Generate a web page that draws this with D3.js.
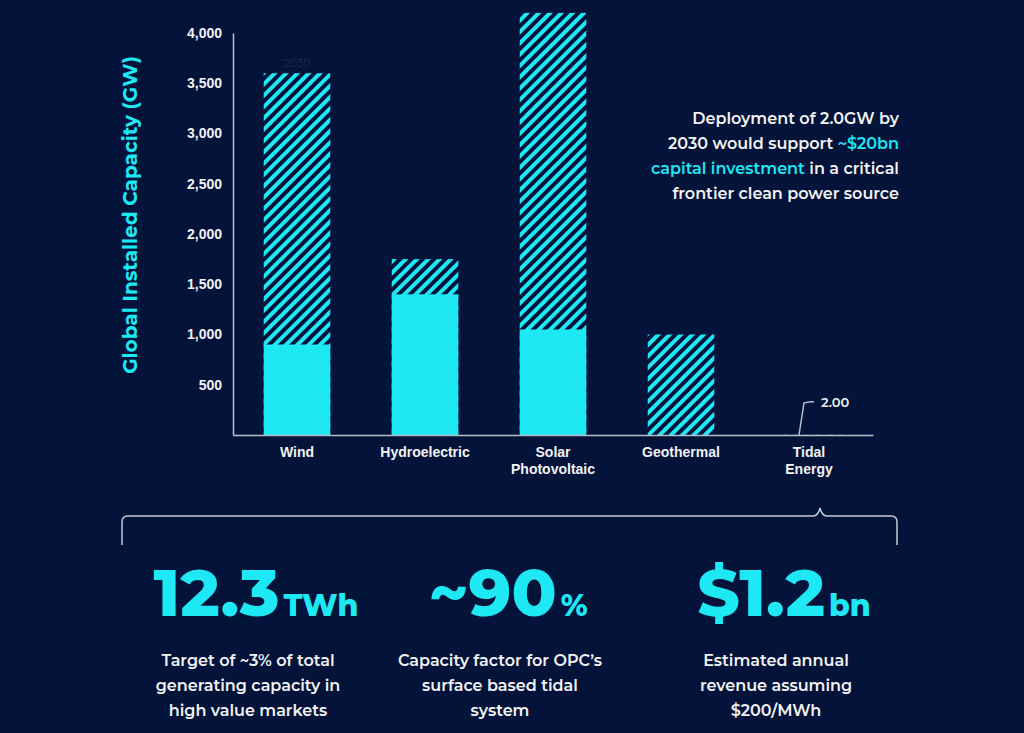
<!DOCTYPE html>
<html>
<head>
<meta charset="utf-8">
<script src="https://cdn.jsdelivr.net/npm/d3@7"></script>
<style>
  body { margin: 0; background: #03133a; }
  svg { display: block; font-family: "Montserrat", "Noto Sans", sans-serif; }
</style>
</head>
<body>
<div class="canvas"></div>
<script>
// Data
const categories = ["Wind", "Hydroelectric", "Solar Photovoltaic", "Geothermal", "Tidal Energy"];
const current = [900, 1400, 1050, 0, 0];
const target2030 = [3600, 1750, 4200, 1000, 2];
const yTicks = [500, 1000, 1500, 2000, 2500, 3000, 3500, 4000];
const stats = [
    { big: "12.3", unit: "TWh", lines: ["Target of ~3% of total", "generating capacity in", "high value markets"] },
    { big: "~90", unit: "%", lines: ["Capacity factor for OPC\u2019s", "surface based tidal", "system"] },
    { big: "$1.2", unit: "bn", lines: ["Estimated annual", "revenue assuming", "$200/MWh"] }
];

const cyan = "#1ee8f3";
const W = 1024, H = 733;
const svg = d3.select(".canvas").append("svg").attr("width", W).attr("height", H);
svg.append("rect").attr("width", W).attr("height", H).attr("fill", "#03133a");

// hatch pattern
const defs = svg.append("defs");
const pat = defs.append("pattern").attr("id", "hatch")
    .attr("patternUnits", "userSpaceOnUse").attr("width", 8).attr("height", 8)
    .attr("patternTransform", "rotate(45)");
pat.append("rect").attr("width", 8).attr("height", 8).attr("fill", "#03133a");
pat.append("rect").attr("x", 0).attr("width", 4).attr("height", 8).attr("fill", cyan);

const margin = { left: 233, top: 33, right: 1024 - 873, bottom: 733 - 435 };
const gw = W - margin.left - margin.right, gh = H - margin.top - margin.bottom;
const graph = svg.append("g").attr("transform", `translate(${margin.left},${margin.top})`);

const x = d3.scaleBand().domain(categories).range([0, gw]).paddingInner(0.48).paddingOuter(0.24);
const y = d3.scaleLinear().domain([0, 4000]).range([gh, 0]);

// bars: hatched 2030 total, solid current
graph.selectAll("rect.total").data(categories).enter().append("rect")
    .attr("class", "total")
    .attr("x", d => x(d)).attr("width", x.bandwidth())
    .attr("y", (d, i) => y(target2030[i]))
    .attr("height", (d, i) => gh - y(target2030[i]))
    .attr("fill", "url(#hatch)");
graph.selectAll("rect.cur").data(categories).enter().append("rect")
    .attr("class", "cur")
    .attr("x", d => x(d)).attr("width", x.bandwidth())
    .attr("y", (d, i) => y(current[i]))
    .attr("height", (d, i) => gh - y(current[i]))
    .attr("fill", cyan);

// faint "2030" label on wind
graph.append("text").attr("x", x("Wind") + x.bandwidth() / 2).attr("y", y(target2030[0]) - 6)
    .attr("text-anchor", "middle").attr("fill", "#1b2d55").attr("font-size", 11).text("2030");

// axes
const yAxis = d3.axisLeft(y).tickValues(yTicks).tickSize(0).tickPadding(11).tickFormat(d3.format(","));
const yg = graph.append("g").call(yAxis);
yg.select(".domain").attr("stroke", "#b8bcc8").attr("stroke-width", 1.5);
yg.selectAll("text").attr("fill", "#f2f2f2").attr("font-size", 14).attr("font-weight", 600);

const xAxis = d3.axisBottom(x).tickSize(0).tickPadding(12);
const xg = graph.append("g").attr("transform", `translate(0,${gh})`).call(xAxis);
xg.select(".domain").attr("stroke", "#b8bcc8").attr("stroke-width", 1.5);
xg.selectAll("text").attr("fill", "#f2f2f2").attr("font-size", 14).attr("font-weight", 600)
    .each(function (d) {
        const t = d3.select(this), words = d.split(" ");
        if (words.length > 1) {
            t.text(null);
            words.forEach((w, i) => t.append("tspan").attr("x", 0).attr("dy", i ? "1.25em" : "0.71em").text(w));
        }
    });

// y axis title
svg.append("text").attr("transform", "translate(137,215) rotate(-90)")
    .attr("text-anchor", "middle").attr("fill", cyan).attr("font-size", 20).attr("font-weight", 700)
    .text("Global Installed Capacity (GW)");

// tidal callout
const tx = margin.left + x("Tidal Energy") + x.bandwidth() / 2 - 10, ty = margin.top + y(target2030[4]);
svg.append("path").attr("d", `M${tx},${ty} L${tx + 5},${ty - 32} L${tx + 12},${ty - 33} L${tx + 15},${ty - 33}`)
    .attr("fill", "none").attr("stroke", "#b8bcc8").attr("stroke-width", 1.5);
svg.append("text").attr("x", tx + 22).attr("y", ty - 28).attr("fill", "#f2f2f2")
    .attr("font-size", 13).attr("font-weight", 600).text(d3.format(".2f")(target2030[4]));

// annotation
const ann = svg.append("text").attr("text-anchor", "end").attr("fill", "#f2f2f2")
    .attr("font-size", 16).attr("font-weight", 600);
[[["Deployment of 2.0GW by", "#f2f2f2"]],
 [["2030 would support ", "#f2f2f2"], ["~$20bn", cyan]],
 [["capital investment", cyan], [" in a critical", "#f2f2f2"]],
 [["frontier clean power source", "#f2f2f2"]]].forEach((line, i) => {
    const t = ann.append("tspan").attr("x", 899).attr("y", 124 + i * 25);
    line.forEach(([s, c], j) => (j ? ann.append("tspan") : t).attr("fill", c).text(s));
});

// brace
svg.append("path")
    .attr("d", "M122,545 L122,522 Q122,516 128,516 L813,516 Q818,516 820,508 Q822,516 827,516 L891,516 Q897,516 897,522 L897,545")
    .attr("fill", "none").attr("stroke", "#c8ccd6").attr("stroke-width", 1.5);

// stats
const cx = [256, 508, 784];
stats.forEach((s, i) => {
    const t = svg.append("text").attr("x", cx[i]).attr("y", 616).attr("text-anchor", "middle")
        .attr("fill", cyan).attr("font-weight", 800);
    t.append("tspan").attr("font-size", 66).text(s.big);
    t.append("tspan").attr("font-size", 30).attr("dx", 4).text(s.unit);
    s.lines.forEach((l, j) => svg.append("text").attr("x", cx[i] - 8).attr("y", 666 + j * 25)
        .attr("text-anchor", "middle").attr("fill", "#f2f2f2").attr("font-size", 16)
        .attr("font-weight", 600).text(l));
});
</script>
</body>
</html>
